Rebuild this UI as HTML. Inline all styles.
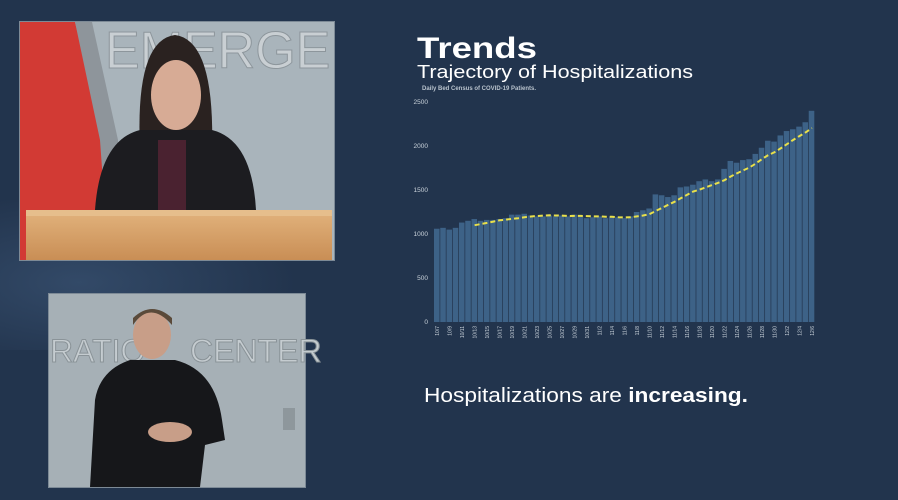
<!DOCTYPE html>
<html><head><meta charset="utf-8"><style>
html,body{margin:0;padding:0;width:898px;height:500px;overflow:hidden;background:#22344d;font-family:"Liberation Sans",sans-serif}
</style></head><body>
<svg id="s" width="898" height="500" xmlns="http://www.w3.org/2000/svg">
<defs>
<radialGradient id="bg" cx="0.22" cy="0.55" r="0.6"><stop offset="0" stop-color="#3a5373"/><stop offset="1" stop-color="#22344d"/></radialGradient>
<linearGradient id="wood" x1="0" y1="0" x2="0" y2="1"><stop offset="0" stop-color="#e2b37d"/><stop offset="1" stop-color="#c98e55"/></linearGradient>
</defs>
<rect width="898" height="500" fill="#22344d"/>
<rect x="0" y="200" width="360" height="150" fill="url(#bg)" opacity="0.7"/>
<!-- top video -->
<rect x="19" y="21" width="316" height="240" fill="#7d8a96"/>
<rect x="20" y="22" width="314" height="238" fill="#a9b4bb"/>
<polygon points="20,22 75,22 105,140 110,260 20,260" fill="#d23a34"/>
<polygon points="75,22 92,22 118,140 118,210 105,210 100,140" fill="#8e959b"/>
<text x="105" y="68" font-size="52" fill="#c9cfd3" stroke="#8d969c" stroke-width="1" font-family="Liberation Sans">EMERGE</text>
<path d="M140,150 Q135,40 175,35 Q215,40 212,150 Z" fill="#2a2220"/>
<ellipse cx="176" cy="95" rx="25" ry="35" fill="#d7ab95"/>
<path d="M95,210 Q100,140 140,130 L212,130 Q252,140 256,210 Z" fill="#1c1c20"/>
<rect x="158" y="140" width="28" height="70" fill="#4a2230"/>
<rect x="26" y="210" width="306" height="50" fill="url(#wood)"/>
<rect x="26" y="210" width="306" height="6" fill="#e6be8c"/>
<!-- bottom video -->
<rect x="48" y="293" width="258" height="195" fill="#7d8a96"/>
<rect x="49" y="294" width="256" height="193" fill="#a6b0b6"/>
<text x="50" y="362" font-size="32" fill="#c5ccd0" stroke="#8a9398" stroke-width="1">RATIO</text>
<text x="190" y="362" font-size="32" fill="#c5ccd0" stroke="#8a9398" stroke-width="1">CENTER</text>
<ellipse cx="152" cy="335" rx="19" ry="24" fill="#c89e88"/>
<path d="M133,325 Q150,300 172,325 L172,318 Q152,300 133,318Z" fill="#5a4a3a"/>
<path d="M90,487 L95,400 Q100,370 130,360 L175,360 Q215,370 222,420 L225,440 L205,445 L200,487 Z" fill="#16171a"/>
<ellipse cx="170" cy="432" rx="22" ry="10" fill="#c89e88"/>
<rect x="283" y="408" width="12" height="22" fill="#8e979c"/>
<!-- text -->
<text x="417" y="58" font-size="30" font-weight="bold" fill="#ffffff" textLength="120" lengthAdjust="spacingAndGlyphs">Trends</text>
<text x="417" y="78" font-size="18" fill="#ffffff" textLength="276" lengthAdjust="spacingAndGlyphs">Trajectory of Hospitalizations</text>
<text x="422" y="90" font-size="6" fill="#b8c2cc" font-weight="bold">Daily Bed Census of COVID-19 Patients.</text>
<text x="424" y="402" font-size="20" fill="#ffffff" textLength="324" lengthAdjust="spacingAndGlyphs">Hospitalizations are <tspan font-weight="bold">increasing.</tspan></text>
<g id="chart"></g>
</svg>
<script>
var v=[1060,1070,1050,1070,1130,1150,1170,1150,1160,1160,1170,1180,1220,1220,1230,1210,1200,1200,1210,1200,1210,1200,1220,1200,1180,1190,1200,1180,1200,1190,1180,1200,1250,1270,1290,1450,1440,1420,1440,1530,1540,1560,1600,1620,1600,1620,1740,1830,1810,1840,1850,1910,1980,2060,2050,2120,2170,2190,2220,2270,2400];
var g=document.getElementById('chart'),h="";
var x0=434,x1=815,y0=322,sc=220/2500,w=(x1-x0)/61;
[0,500,1000,1500,2000,2500].forEach(function(t){h+='<text x="428" y="'+(y0-t*sc+2)+'" font-size="6.5" fill="#c9d2da" text-anchor="end">'+t+'</text>';});
for(var i=0;i<61;i++){var hh=v[i]*sc;h+='<rect x="'+(x0+i*w).toFixed(2)+'" y="'+(y0-hh).toFixed(2)+'" width="'+(w-0.7).toFixed(2)+'" height="'+hh.toFixed(2)+'" fill="#3d6287"/>';}
var p="";for(var i=6;i<61;i++){var s=0;for(var j=i-6;j<=i;j++)s+=v[j];s/=7;p+=(i==6?"M":"L")+(x0+i*w+w/2).toFixed(1)+","+(y0-s*sc).toFixed(1);}
h+='<path d="'+p+'" fill="none" stroke="#e9e04a" stroke-width="2" stroke-dasharray="5,3"/>';
var d=new Date(2020,9,7,12);
for(var i=0;i<61;i+=2){var dd=new Date(d.getTime()+i*86400000);var lbl=(dd.getMonth()+1)+"/"+dd.getDate();var cx=x0+i*w+w/2+2;h+='<text transform="translate('+cx.toFixed(1)+',326) rotate(-90)" font-size="5" fill="#c9d2da" text-anchor="end">'+lbl+'</text>';}
g.innerHTML=h;
</script>
</body></html>
